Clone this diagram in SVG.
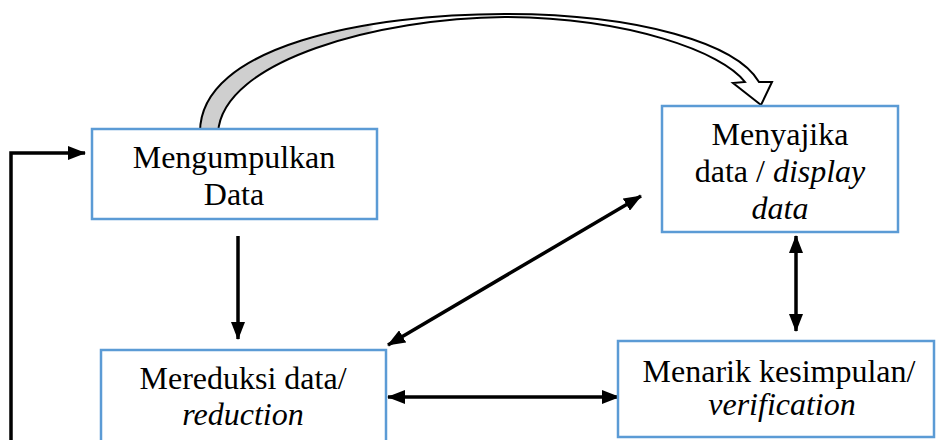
<svg xmlns="http://www.w3.org/2000/svg" width="936" height="440" viewBox="0 0 936 440">
<style>
.box{fill:#fff;stroke:#5b9bd5;stroke-width:2.5}
.t{font-family:'Liberation Serif','Times New Roman',serif;font-size:32px;fill:#000;text-anchor:middle}
.i{font-style:italic}
.c{fill:none;stroke:#000;stroke-width:3.5}
</style>
<defs>
<marker id="ah" viewBox="0 0 18 14" refX="17" refY="7" markerWidth="18" markerHeight="14" markerUnits="userSpaceOnUse" orient="auto-start-reverse">
<path d="M0,0 L18,7 L0,14 z" fill="#000"/>
</marker>
<linearGradient id="rib" gradientUnits="userSpaceOnUse" x1="200" y1="0" x2="760" y2="0">
<stop offset="0" stop-color="#cfcfcf"/>
<stop offset="0.3" stop-color="#cfcfcf"/>
<stop offset="0.31" stop-color="#ffffff"/>
<stop offset="1" stop-color="#ffffff"/>
</linearGradient>
</defs>
<g id="connectors">
<path class="c" d="M238,236 L238,339" marker-end="url(#ah)"/>
<path class="c" d="M11,440 L11,153 L85,153" marker-end="url(#ah)"/>
<path class="c" d="M388,397 L619,397" marker-start="url(#ah)" marker-end="url(#ah)"/>
<path class="c" d="M796,236 L796,331" marker-start="url(#ah)" marker-end="url(#ah)"/>
<path class="c" d="M388,345 L641,196" marker-start="url(#ah)" marker-end="url(#ah)"/>
<path d="M200,133 C199,45 370,14 505,14 C640,14 737,44 759,82 L772,82 L761,105 L733,83 L745,82 C722,52 630,18 505,17 C380,18 222,60 218,133 Z" fill="url(#rib)" stroke="#000" stroke-width="2" stroke-linejoin="miter"/>
</g>
<g id="n1">
<rect class="box" x="92" y="129" width="285" height="90"/>
<text class="t" x="234" y="168">Mengumpulkan</text>
<text class="t" x="234" y="205">Data</text>
</g>
<g id="n2">
<rect class="box" x="101" y="350" width="285" height="92"/>
<text class="t" x="243" y="389">Mereduksi data/</text>
<text class="t i" x="243" y="425">reduction</text>
</g>
<g id="n3">
<rect class="box" x="662" y="106" width="236" height="126"/>
<text class="t" x="780" y="145">Menyajika</text>
<text class="t" x="780" y="182">data / <tspan class="i">display</tspan></text>
<text class="t i" x="780" y="219">data</text>
</g>
<g id="n4">
<rect class="box" x="618" y="341" width="316" height="96"/>
<text class="t" x="779" y="382">Menarik kesimpulan/</text>
<text class="t i" x="782" y="415">verification</text>
</g>
</svg>
